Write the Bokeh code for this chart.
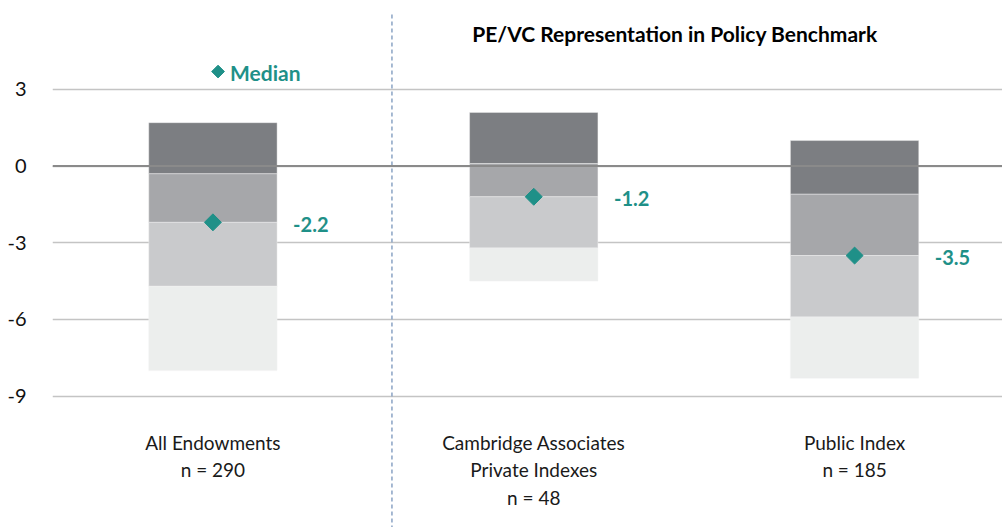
from bokeh.plotting import figure
from bokeh.models import FixedTicker, Span
from bokeh.core.properties import value
from bokeh.embed import file_html
from bokeh.resources import INLINE
import math

# Percentile bands of relative performance by benchmark group
groups = ["All Endowments", "Cambridge Associates Private Indexes", "Public Index"]
label_lines = [["All Endowments", "n = 290"],
               ["Cambridge Associates", "Private Indexes", "n = 48"],
               ["Public Index", "n = 185"]]
p5 = [1.7, 2.1, 1.0]
p25 = [-0.3, 0.1, -1.1]
median = [-2.2, -1.2, -3.5]
p75 = [-4.7, -3.2, -5.9]
p95 = [-8.0, -4.5, -8.3]
y_ticks = [3, 0, -3, -6, -9]

FONT = "Lato"
TEAL = "#1f9088"
band_colors = ["#7c7e82", "#a6a7aa", "#c9cacc", "#eceeed"]

p = figure(width=1002, height=527, output_backend="svg", toolbar_location=None,
           x_range=(-0.5, 2.461), y_range=(-14.14, 6.48),
           min_border_left=52, min_border_right=0, min_border_top=0, min_border_bottom=0)
p.outline_line_color = None
p.xaxis.visible = False
p.xgrid.visible = False

ax = p.yaxis[0]
ax.ticker = FixedTicker(ticks=y_ticks)
ax.major_label_overrides = {t: str(t) for t in y_ticks}
ax.axis_line_color = None
ax.major_tick_line_color = None
ax.minor_tick_line_color = None
ax.major_label_text_font = FONT
ax.major_label_text_font_size = "20px"
ax.major_label_text_color = "#111111"
ax.major_label_standoff = 20

p.ygrid.ticker = FixedTicker(ticks=y_ticks)
p.ygrid.grid_line_color = "#c4c4c4"
p.ygrid.grid_line_width = 1.5

xs = list(range(len(groups)))
bands = [(p5, p25), (p25, median), (median, p75), (p75, p95)]
for (top, bottom), col in zip(bands, band_colors):
    p.vbar(x=xs, width=0.4, top=top, bottom=bottom, fill_color=col,
           line_color="#f2f2f2", line_width=0.6, line_alpha=0.7)

# zero line above the bars
p.add_layout(Span(location=0, dimension="width", line_color="#8a8a8a", line_width=2))

# divider between peer group and benchmark groups
p.segment(x0=[0.558], x1=[0.558], y0=[5.93], y1=[-14.5], line_color="#8aa3c4",
          line_width=1.5, line_dash="4 3")

p.scatter(x=xs, y=median, marker="square", size=12, angle=math.pi / 4,
          fill_color=TEAL, line_color=TEAL)
p.text(x=[x + 0.2 for x in xs], y=median, text=[f"{m:.1f}" for m in median],
       x_offset=16, y_offset=2, text_font=value(FONT), text_font_style="bold",
       text_font_size="20px", text_color=TEAL, text_baseline="middle", text_align="left")

# legend entry
p.scatter(x=[0.016], y=[3.70], marker="square", size=9, angle=math.pi / 4,
          fill_color=TEAL, line_color=TEAL)
p.text(x=[0.016], y=[3.70], text=["Median"], x_offset=12, y_offset=1,
       text_font=value(FONT), text_font_style="bold", text_font_size="21px",
       text_color=TEAL, text_baseline="middle", text_align="left")

p.text(x=[1.44], y=[6.48], text=["PE/VC Representation in Policy Benchmark"],
       y_offset=33, text_font=value(FONT), text_font_style="bold",
       text_font_size="21px", text_color="#000000", text_baseline="middle",
       text_align="center")

# category labels below the axis area
for x, lines in zip(xs, label_lines):
    for i, line in enumerate(lines):
        p.text(x=[x], y=[-9], text=[line], y_offset=46 + 27.5 * i,
               text_font=value(FONT), text_font_size="19px", text_color="#1a1a1a",
               text_baseline="middle", text_align="center")

open("out.html", "w").write(file_html(p, INLINE))
